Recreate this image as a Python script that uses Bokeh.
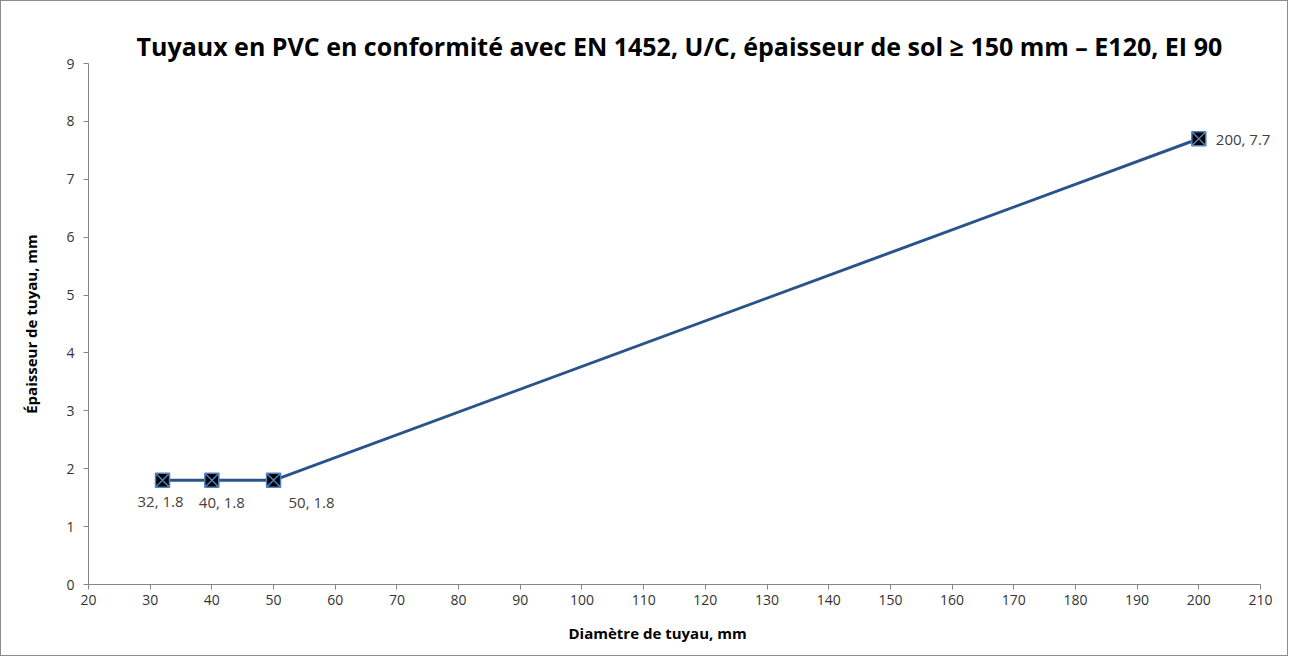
from bokeh.plotting import figure
from bokeh.models import ColumnDataSource, LabelSet, FixedTicker, Range1d, Title
from bokeh.core.properties import value
from bokeh.embed import file_html
from bokeh.resources import INLINE

diametre = [32, 40, 50, 200]
epaisseur = [1.8, 1.8, 1.8, 7.7]
etiquettes = ["32, 1.8", "40, 1.8", "50, 1.8", "200, 7.7"]
x_ticks = list(range(20, 211, 10))
y_ticks = list(range(0, 10))

W, H = 1288, 656
FRAME_L, FRAME_R, AXIS_R = 87, 1280, 1259
x_start, x_end_axis = 20, 210
x_end = x_start + (FRAME_R - FRAME_L) * (x_end_axis - x_start) / (AXIS_R - FRAME_L)

p = figure(width=W, height=H, output_backend="svg", toolbar_location=None,
           x_range=Range1d(x_start, x_end), y_range=Range1d(0, 9),
           min_border_left=FRAME_L, min_border_right=W - FRAME_R,
           min_border_top=62, min_border_bottom=H - 583)
p.styles = {"border": "1px solid #8c8c8c"}

p.title.text = "Tuyaux en PVC en conformité avec EN 1452, U/C, épaisseur de sol ≥ 150 mm – E120, EI 90"
p.title.align = "left"
p.title.text_font = "Open Sans"
p.title.text_font_style = "bold"
p.title.text_font_size = "25px"
p.title.text_color = "#000000"
p.title.offset = 48
p.title.standoff = 2

p.xgrid.visible = False
p.ygrid.visible = False
p.outline_line_color = None

for ax in (p.xaxis[0], p.yaxis[0]):
    ax.axis_line_color = "#868686"
    ax.major_tick_line_color = "#868686"
    ax.minor_tick_line_color = None
    ax.major_tick_in = 0
    ax.major_tick_out = 5
    ax.major_label_text_font = "Open Sans"
    ax.major_label_text_font_size = "14px"
    ax.major_label_text_color = "#333333"
    ax.axis_label_text_font = "Open Sans"
    ax.axis_label_text_font_style = "bold"
    ax.axis_label_text_font_size = "15px"
    ax.axis_label_text_color = "#000000"

p.xaxis.bounds = (x_start, x_end_axis)
p.xaxis.ticker = FixedTicker(ticks=x_ticks)
p.yaxis.ticker = FixedTicker(ticks=y_ticks)
p.yaxis.major_label_standoff = 9
p.yaxis.axis_label = "Épaisseur de tuyau, mm"
p.yaxis.axis_label_standoff = 22

xlab = Title(text="Diamètre de tuyau, mm", align="left", offset=480,
             text_font="Open Sans", text_font_style="bold", text_font_size="15px",
             text_color="#000000", standoff=26)
p.add_layout(xlab, "below")

src = ColumnDataSource(dict(x=diametre, y=epaisseur, lab=etiquettes,
                            xo=[-2, 10, 38, 17], yo=[-21, -22, -22, 0],
                            ta=["center", "center", "center", "left"]))

p.line("x", "y", source=src, line_color="#2a5389", line_width=3)
p.scatter("x", "y", source=src, marker="square_x", size=14,
          fill_color="#000000", line_color="#4f81bd", line_width=1.5)

labels = LabelSet(x="x", y="y", text="lab", source=src, x_offset="xo", y_offset="yo",
                  text_align="ta", text_baseline="middle",
                  text_font=value("Open Sans"), text_font_size="15px", text_color="#404040")
p.add_layout(labels)

open("out.html", "w").write(file_html(p, INLINE))
